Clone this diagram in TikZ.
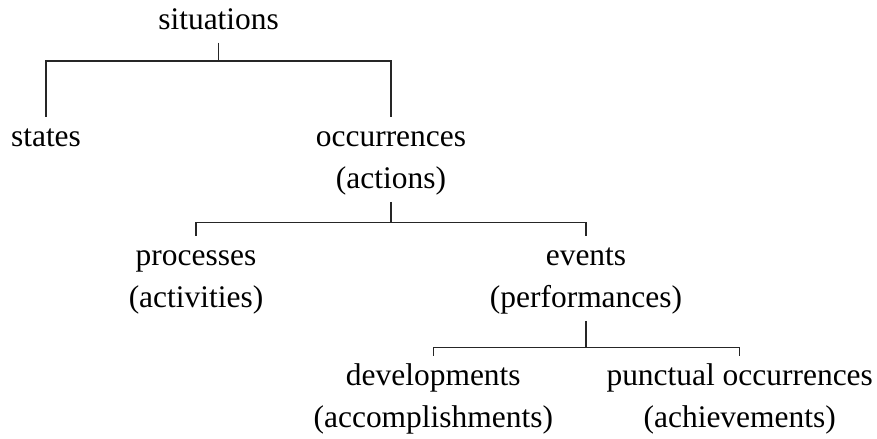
\documentclass[tikz,border=0pt]{standalone}
\usepackage{fontspec}
\setmainfont{Liberation Serif}
\newcommand{\topstrut}{\rule{0pt}{0.95em}}
\tikzset{
  treeline/.style={line width=0.7pt, draw=black!85},
  catnode/.style={align=center, inner sep=0pt, anchor=north,
    font=\fontsize{17.9}{23.9}\selectfont,
    execute at end node={\rule[-0.4em]{0pt}{0.4em}}},
}

\begin{document}
\begin{tikzpicture}
  \useasboundingbox (0,0) rectangle (17.54,-8.78);

  % Top
  \node[catnode] (sit) at (4.372,0.012) {\topstrut situations};

  % First split
  \node[catnode] (states) at (0.92,-2.334) {\topstrut states};
  \node[catnode] (occ) at (7.82,-2.334) {\topstrut occurrences\\(actions)};

  % Second split
  \node[catnode] (proc) at (3.92,-4.714) {\topstrut processes\\(activities)};
  \node[catnode] (events) at (11.72,-4.714) {\topstrut events\\(performances)};

  % Third split
  \node[catnode] (devel) at (8.666,-7.114) {\topstrut developments\\(accomplishments)};
  \node[catnode] (punct) at (14.794,-7.114) {\topstrut punctual occurrences\\(achievements)};

  \draw[treeline] (states.north) -- ++(0,1.114) coordinate (b1) -| (occ.north);
  \draw[treeline] (sit.south) -- (sit.south |- b1);

  \draw[treeline] (proc.north) -- ++(0,0.268) coordinate (b2) -| (events.north);
  \draw[treeline] (occ.south) -- (occ.south |- b2);

  \draw[treeline] (devel.north) -- ++(0,0.16) coordinate (b3) -| (punct.north);
  \draw[treeline] (events.south) -- (events.south |- b3);

\end{tikzpicture}
\end{document}
